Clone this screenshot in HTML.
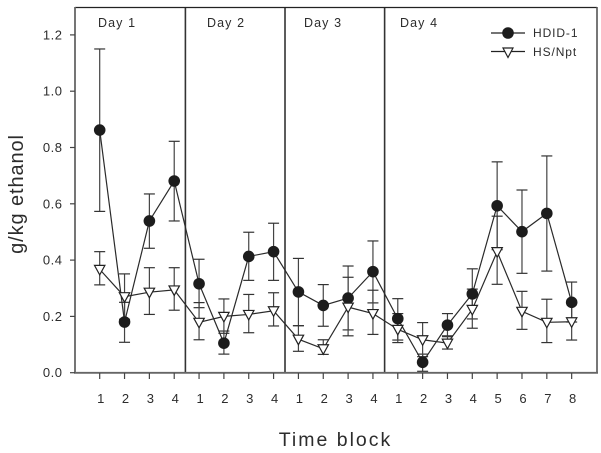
<!DOCTYPE html>
<html><head><meta charset="utf-8">
<style>
html,body{margin:0;padding:0;background:#fff;}
svg{display:block;}
text{font-family:"Liberation Sans",sans-serif;fill:#2c2c2c;}
</style></head>
<body>
<svg id="chart" width="601" height="453" viewBox="0 0 601 453" xmlns="http://www.w3.org/2000/svg">
<rect width="601" height="453" fill="#fff"/>
<g id="dividers"></g>
<g id="axes"></g>
<g id="series"></g>
<text x="98" y="27" font-size="12.5" letter-spacing="1.1">Day 1</text>
<text x="207" y="27" font-size="12.5" letter-spacing="1.1">Day 2</text>
<text x="304" y="27" font-size="12.5" letter-spacing="1.1">Day 3</text>
<text x="400" y="27" font-size="12.5" letter-spacing="1.1">Day 4</text>
<text transform="translate(23,194) rotate(-90)" text-anchor="middle" font-size="20" letter-spacing="0.9">g/kg ethanol</text>
<text x="335.5" y="446" text-anchor="middle" font-size="19.5" letter-spacing="2">Time block</text>
<g id="legend">
<g>
<line x1="491" x2="525" y1="33" y2="33" stroke="#222" stroke-width="1.2"/>
<circle cx="508" cy="33" r="5.8" fill="#1c1c1c"/>
<text x="533" y="37" font-size="12" letter-spacing="0.9">HDID-1</text>
</g>
<g>
<line x1="491" x2="525" y1="51.5" y2="51.5" stroke="#222" stroke-width="1.2"/>
<polygon points="503,48 513,48 508,57.5" fill="#fff" stroke="#222" stroke-width="1.2"/>
<text x="533" y="56" font-size="12" letter-spacing="0.9">HS/Npt</text>
</g>
</g>
</svg>
<script>
const xLabels = [1,2,3,4,1,2,3,4,1,2,3,4,1,2,3,4,5,6,7,8];
const yTicks = [0,0.2,0.4,0.6,0.8,1.0,1.2];
const hdidMean = [0.862,0.18,0.539,0.681,0.316,0.105,0.413,0.43,0.287,0.239,0.265,0.359,0.192,0.037,0.169,0.28,0.593,0.501,0.566,0.25];
const hdidUpper = [1.15,0.25,0.635,0.822,0.403,0.148,0.499,0.531,0.406,0.313,0.379,0.468,0.263,0.066,0.21,0.369,0.749,0.649,0.77,0.322];
const hdidLower = [0.573,0.108,0.442,0.539,0.231,0.066,0.328,0.328,0.167,0.165,0.152,0.248,0.116,0.005,0.128,0.191,0.437,0.353,0.361,0.18];
const hsMean = [0.367,0.27,0.286,0.294,0.179,0.2,0.207,0.22,0.119,0.085,0.233,0.21,0.154,0.117,0.105,0.225,0.43,0.218,0.179,0.181];
const hsUpper = [0.43,0.351,0.373,0.373,0.249,0.262,0.278,0.284,0.167,0.117,0.339,0.293,0.21,0.178,0.131,0.297,0.556,0.289,0.261,0.25];
const hsLower = [0.312,0.19,0.207,0.222,0.117,0.14,0.142,0.166,0.076,0.065,0.131,0.136,0.107,0.057,0.084,0.158,0.314,0.154,0.107,0.116];
const dayBoundaries = [3.45,7.46,11.47];

const NS = 'http://www.w3.org/2000/svg';
const xScale = i => 99.7 + 24.84 * i;
const yScale = v => 372.7 - 281.5 * v;
function make(parent, tag, attrs, text) {
  const el = document.createElementNS(NS, tag);
  for (const k in attrs) el.setAttribute(k, attrs[k]);
  if (text !== undefined) el.textContent = text;
  parent.appendChild(el);
  return el;
}
const axes = document.getElementById('axes');
const dividers = document.getElementById('dividers');
const series = document.getElementById('series');

make(axes, 'line', {x1:75, x2:597, y1:7.5, y2:7.5, stroke:'#222', 'stroke-width':1.3});
make(axes, 'line', {x1:597, x2:597, y1:7, y2:373, stroke:'#555', 'stroke-width':1.6});
make(axes, 'line', {x1:75, x2:75, y1:7, y2:373.5, stroke:'#666', 'stroke-width':1.8});
make(axes, 'line', {x1:74, x2:598, y1:372.8, y2:372.8, stroke:'#666', 'stroke-width':1.8});

yTicks.forEach(v => {
  const t = make(axes, 'line', {x1:70, x2:75, y1:yScale(v), y2:yScale(v), stroke:'#444', 'stroke-width':1.2});
  
  
  const l = make(axes, 'text', {x:62.5, y:yScale(v)+4.5, 'text-anchor':'end', 'font-size':13, 'letter-spacing':0.5}, v.toFixed(1));
  
  
});
xLabels.forEach((lab, i) => {
  const t = make(axes, 'line', {x1:xScale(i), x2:xScale(i), y1:373, y2:379, stroke:'#444', 'stroke-width':1.2});
  
  
  const l = make(axes, 'text', {x:xScale(i)+1, y:403, 'text-anchor':'middle', 'font-size':13}, lab);
  
  
});
dayBoundaries.forEach(b => {
  const x = xScale(b);
  const d = make(dividers, 'line', {x1:x, x2:x, y1:7, y2:373, stroke:'#333', 'stroke-width':1.6});
  
  
});

function drawErrors(upper, lower) {
  upper.forEach((u, i) => {
    const x = xScale(i), yu = yScale(u), yl = yScale(lower[i]);
    make(series, 'line', {x1:x, x2:x, y1:yu, y2:yl, stroke:'#444', 'stroke-width':1.2});
    make(series, 'line', {x1:x-5.5, x2:x+5.5, y1:yu, y2:yu, stroke:'#333', 'stroke-width':1.2});
    make(series, 'line', {x1:x-5.5, x2:x+5.5, y1:yl, y2:yl, stroke:'#333', 'stroke-width':1.2});
  });
}
function drawLine(vals) {
  make(series, 'polyline', {points: vals.map((v, i) => xScale(i) + ',' + yScale(v)).join(' '), fill:'none', stroke:'#2a2a2a', 'stroke-width':1.2});
}
drawErrors(hdidUpper, hdidLower);
drawErrors(hsUpper, hsLower);
drawLine(hdidMean);
drawLine(hsMean);
hdidMean.forEach((v, i) => {
  const c = make(series, 'circle', {cx:xScale(i), cy:yScale(v), r:5.8, fill:'#1c1c1c'});
  
  
});
hsMean.forEach((v, i) => {
  const x = xScale(i), y = yScale(v);
  const p = make(series, 'polygon', {points: (x-5.2)+','+(y-4)+' '+(x+5.2)+','+(y-4)+' '+x+','+(y+5.5), fill:'#fff', stroke:'#222', 'stroke-width':1.2});
  
  
});
</script>
</body></html>
